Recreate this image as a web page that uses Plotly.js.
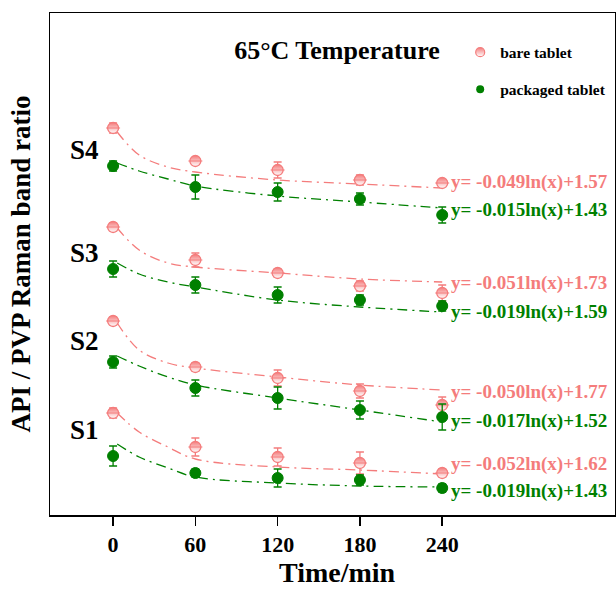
<!DOCTYPE html>
<html>
<head>
<meta charset="utf-8">
<script src="https://cdn.plot.ly/plotly-3.0.1.min.js"></script>
<style>html,body{margin:0;padding:0;background:#fff;}#chart{width:616px;height:590px;}</style>
</head>
<body>
<div id="chart"></div>
<script>
// ---- data (stacked, arbitrary offset units) ----
const time = [0, 60, 120, 180, 240];
const xTicks = [0, 60, 120, 180, 240];
const xTickLabels = ['0', '60', '120', '180', '240'];

const s4Bare = [3.87, 3.54, 3.45, 3.35, 3.32];
const s4BareErr = [0.05, 0.03, 0.08, 0.05, 0.03];
const s4Pack = [3.49, 3.28, 3.23, 3.16, 3.00];
const s4PackErr = [0.05, 0.12, 0.09, 0.06, 0.08];

const s3Bare = [2.88, 2.55, 2.42, 2.29, 2.22];
const s3BareErr = [0.04, 0.07, 0.04, 0.05, 0.08];
const s3Pack = [2.46, 2.30, 2.20, 2.15, 2.09];
const s3PackErr = [0.08, 0.08, 0.08, 0.05, 0.05];

const s2Bare = [1.94, 1.48, 1.37, 1.24, 1.10];
const s2BareErr = [0.04, 0.04, 0.08, 0.07, 0.08];
const s2Pack = [1.53, 1.27, 1.17, 1.05, 0.98];
const s2PackErr = [0.06, 0.08, 0.11, 0.09, 0.13];

const s1Bare = [1.02, 0.68, 0.58, 0.52, 0.42];
const s1BareErr = [0.05, 0.09, 0.09, 0.11, 0.04];
const s1Pack = [0.59, 0.42, 0.37, 0.35, 0.27];
const s1PackErr = [0.10, 0.04, 0.09, 0.05, 0.04];

// fitted curves
const fitTime = [3, 19, 40, 60, 120, 180, 240];
const s4BareFit = [3.83, 3.60, 3.48, 3.43, 3.35, 3.31, 3.27];
const s4PackFit = [3.52, 3.44, 3.36, 3.29, 3.19, 3.13, 3.07];
const s3BareFit = [2.87, 2.65, 2.52, 2.48, 2.42, 2.36, 2.33];
const s3PackFit = [2.52, 2.41, 2.33, 2.28, 2.15, 2.08, 2.03];
const s2BareFit = [1.92, 1.65, 1.52, 1.47, 1.38, 1.30, 1.25];
const s2PackFit = [1.59, 1.49, 1.38, 1.30, 1.17, 1.05, 0.93];
const s1BareFit = [1.02, 0.83, 0.68, 0.56, 0.48, 0.45, 0.41];
const s1PackFit = [0.71, 0.58, 0.47, 0.38, 0.32, 0.29, 0.28];

const sampleNames = ['S4', 'S3', 'S2', 'S1'];
const bareEquations = ['y= -0.049ln(x)+1.57', 'y= -0.051ln(x)+1.73', 'y= -0.050ln(x)+1.77', 'y= -0.052ln(x)+1.62'];
const packEquations = ['y= -0.015ln(x)+1.43', 'y= -0.019ln(x)+1.59', 'y= -0.017ln(x)+1.52', 'y= -0.019ln(x)+1.43'];
const legendNames = ['bare tablet', 'packaged tablet'];

// ---- styles ----
const RED = '#F47C7C';
const GREEN = '#008000';
const FONT = 'Liberation Serif, Times New Roman, serif';
const DASH = '10px,5px,2px,5px';

const groups = [
  {name: sampleNames[0], bare: s4Bare, bareErr: s4BareErr, pack: s4Pack, packErr: s4PackErr, bareFit: s4BareFit, packFit: s4PackFit, be: bareEquations[0], pe: packEquations[0]},
  {name: sampleNames[1], bare: s3Bare, bareErr: s3BareErr, pack: s3Pack, packErr: s3PackErr, bareFit: s3BareFit, packFit: s3PackFit, be: bareEquations[1], pe: packEquations[1]},
  {name: sampleNames[2], bare: s2Bare, bareErr: s2BareErr, pack: s2Pack, packErr: s2PackErr, bareFit: s2BareFit, packFit: s2PackFit, be: bareEquations[2], pe: packEquations[2]},
  {name: sampleNames[3], bare: s1Bare, bareErr: s1BareErr, pack: s1Pack, packErr: s1PackErr, bareFit: s1BareFit, packFit: s1PackFit, be: bareEquations[3], pe: packEquations[3]}
];

const traces = [];
groups.forEach(g => {
  traces.push({x: fitTime, y: g.bareFit, mode: 'lines', line: {color: RED, width: 1.3, dash: DASH, shape: 'spline', smoothing: 1}, showlegend: false, hoverinfo: 'skip'});
  traces.push({x: fitTime, y: g.packFit, mode: 'lines', line: {color: GREEN, width: 1.3, dash: DASH, shape: 'spline', smoothing: 1}, showlegend: false, hoverinfo: 'skip'});
  traces.push({x: time, y: g.bare, mode: 'markers', showlegend: false,
    error_y: {type: 'data', array: g.bareErr, color: RED, thickness: 1.3, width: 4},
    marker: {symbol: 'circle', size: 11, color: RED, gradient: {type: 'vertical', color: 'white'}, line: {color: RED, width: 1.3}}});
  traces.push({x: time, y: g.bare, mode: 'markers', showlegend: false, hoverinfo: 'skip',
    marker: {symbol: 'line-ew', size: 10, line: {color: RED, width: 1}}});
  traces.push({x: time, y: g.pack, mode: 'markers', showlegend: false,
    error_y: {type: 'data', array: g.packErr, color: GREEN, thickness: 1.3, width: 4},
    marker: {symbol: 'circle', size: 11, color: GREEN, line: {color: GREEN, width: 1}}});
});
// legend entries
traces.push({x: [null], y: [null], mode: 'markers', name: legendNames[0], legendgroup: 'a',
  marker: {symbol: 'circle', size: 9, color: RED, gradient: {type: 'vertical', color: 'white'}, line: {color: RED, width: 1.2}}});
traces.push({x: [null], y: [null], mode: 'markers', name: legendNames[1], legendgroup: 'b',
  marker: {symbol: 'circle', size: 8, color: GREEN}});

const annotations = [];
const labelY = [3.65, 2.62, 1.74, 0.85];
const bareEqY = [3.33, 2.32, 1.23, 0.51];
const packEqY = [3.05, 2.03, 0.94, 0.24];
groups.forEach((g, i) => {
  annotations.push({x: -21, y: labelY[i], xref: 'x', yref: 'y', text: g.name, showarrow: false,
    font: {family: FONT, size: 27, color: '#000', weight: 'bold'}, xanchor: 'center', yanchor: 'middle'});
  annotations.push({x: 245, y: bareEqY[i], xref: 'x', yref: 'y', text: g.be, showarrow: false,
    font: {family: FONT, size: 19, color: RED, weight: 'bold'}, xanchor: 'left', yanchor: 'middle'});
  annotations.push({x: 245, y: packEqY[i], xref: 'x', yref: 'y', text: g.pe, showarrow: false,
    font: {family: FONT, size: 19, color: GREEN, weight: 'bold'}, xanchor: 'left', yanchor: 'middle'});
});
// x-axis title placed as annotation for exact placement
annotations.push({x: 0.508, y: -0.1155, xref: 'paper', yref: 'paper', text: 'Time/min', showarrow: false, borderpad: 0,
  font: {family: FONT, size: 28, color: '#000', weight: 'bold'}, xanchor: 'center', yanchor: 'middle'});

const layout = {
  width: 616, height: 590,
  margin: {l: 50, r: 1, t: 13, b: 75},
  paper_bgcolor: 'white', plot_bgcolor: 'white',
  font: {family: FONT, color: '#000'},
  title: {text: '65°C Temperature', x: 0.547, xanchor: 'center', y: 0.915, yanchor: 'middle',
    font: {family: FONT, size: 26, color: '#000', weight: 'bold'}},
  xaxis: {range: [-46, 366], tickvals: xTicks, ticktext: xTickLabels, ticks: 'outside', ticklen: 9, tickwidth: 1.5, tickcolor: '#000',
    showline: true, linecolor: '#000', linewidth: 1.5, mirror: true, showgrid: false, zeroline: false,
    tickfont: {family: FONT, size: 22, weight: 'bold'}},
  yaxis: {range: [0, 5.02], showticklabels: false, ticks: '', showline: true, linecolor: '#000', linewidth: 1.5, mirror: true,
    showgrid: false, zeroline: false,
    title: {text: 'API / PVP Raman band ratio', font: {family: FONT, size: 27, weight: 'bold'}, standoff: 10}},
  legend: {x: 0.726, xanchor: 'left', y: 0.955, yanchor: 'top', tracegroupgap: 14, bgcolor: 'rgba(0,0,0,0)',
    font: {family: FONT, size: 15.5, weight: 'bold', color: '#000'}},
  annotations: annotations,
  showlegend: true
};

Plotly.newPlot('chart', traces, layout, {displayModeBar: false, staticPlot: true});
</script>
</body>
</html>
